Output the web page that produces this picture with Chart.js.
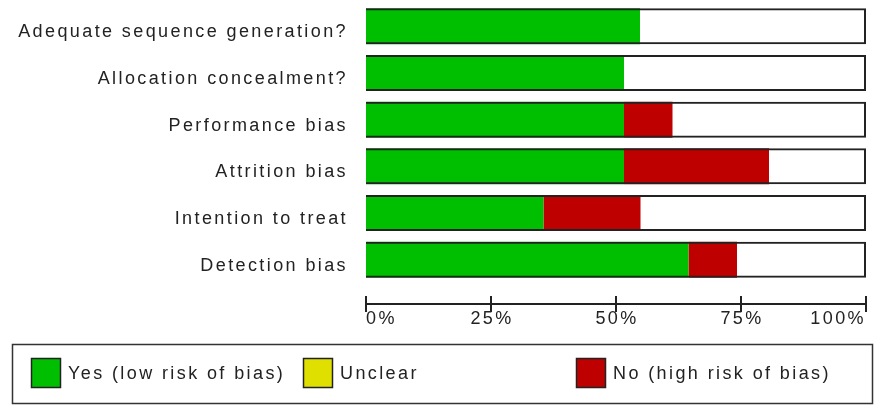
<!DOCTYPE html>
<html>
<head>
<meta charset="utf-8">
<script src="https://cdn.jsdelivr.net/npm/chart.js@4"></script>
<style>
  html, body { margin: 0; padding: 0; background: #fff; }
  #wrap { width: 882px; height: 416px; }
</style>
</head>
<body>
<div id="wrap"><canvas id="chart1" width="882" height="416"></canvas></div>
<script>
// risk of bias items (31 studies)
var items = ["Adequate sequence generation?", "Allocation concealment?", "Performance bias",
             "Attrition bias", "Intention to treat", "Detection bias"]
var yes_pct = [54.8, 51.6, 51.6, 51.6, 35.5, 64.5]
var no_pct = [0, 0, 9.7, 29.0, 19.4, 9.7]
var tick_values = [0, 25, 50, 75, 100]
var tick_labels = ["0%", "25%", "50%", "75%", "100%"]
var legend_labels = ["Yes (low risk of bias)", "Unclear", "No (high risk of bias)"]

var GREEN = '#00bf00'
var YELLOW = '#e0e000'
var RED = '#bf0000'
var SPACING = '2.4px'
var FONT = '18px "Liberation Sans", Arial, sans-serif'

var green_bars = [], red_bars = [], white_bars = [], outline = []
items.forEach(function (name, i) {
    var a = yes_pct[i]
    var b = yes_pct[i] + no_pct[i]
    green_bars.push([0, a])
    red_bars.push([a, b])
    white_bars.push([b, 100])
    outline.push([0, 100])
})

// draws the x axis a little below the bars plus the boxed legend
var extras = {
    id: 'extras',
    beforeDraw: function (chart) {
        chart.ctx.letterSpacing = SPACING
    },
    afterDraw: function (chart) {
        var ctx = chart.ctx
        var x = chart.scales.x
        var axisY = chart.chartArea.bottom + 21
        ctx.save()
        ctx.letterSpacing = SPACING
        ctx.strokeStyle = '#222'
        ctx.lineWidth = 2
        ctx.beginPath()
        ctx.moveTo(x.getPixelForValue(0), axisY)
        ctx.lineTo(x.getPixelForValue(100), axisY)
        tick_values.forEach(function (v) {
            var px = Math.round(x.getPixelForValue(v))
            ctx.moveTo(px, axisY - 8)
            ctx.lineTo(px, axisY + 8)
        })
        ctx.stroke()
        ctx.fillStyle = '#222'
        ctx.font = FONT
        ctx.textBaseline = 'middle'
        tick_values.forEach(function (v, i) {
            var px = x.getPixelForValue(v)
            if (i == 0) { ctx.textAlign = 'left' }
            else if (i == tick_values.length - 1) { ctx.textAlign = 'right' }
            else { ctx.textAlign = 'center'; px += 1 }
            ctx.fillText(tick_labels[i], px, axisY + 15)
        })

        // legend box
        ctx.lineWidth = 1.5
        ctx.strokeStyle = '#333'
        ctx.strokeRect(12.5, 344.5, 860, 59)
        var swatches = [[31, GREEN], [303, YELLOW], [576, RED]]
        ctx.textAlign = 'left'
        swatches.forEach(function (s, i) {
            ctx.fillStyle = s[1]
            ctx.fillRect(s[0], 358, 30, 30)
            ctx.strokeStyle = '#222'
            ctx.strokeRect(s[0] + 0.5, 358.5, 29, 29)
            ctx.fillStyle = '#222'
            ctx.fillText(legend_labels[i], s[0] + 37, 374)
        })
        ctx.restore()
    }
}

var ctx1 = document.getElementById('chart1')
const myChart = new Chart(ctx1, {
    type: 'bar',
    data: {
        labels: items,
        datasets: [
            { label: 'outline', data: outline, backgroundColor: 'rgba(0,0,0,0)', borderColor: '#222', borderWidth: 2 },
            { label: 'Yes', data: green_bars, backgroundColor: GREEN, borderWidth: 0 },
            { label: 'No', data: red_bars, backgroundColor: RED, borderWidth: 0 },
            { label: 'Unclear', data: white_bars, backgroundColor: '#ffffff', borderWidth: 0 }
        ]
    },
    options: {
        indexAxis: 'y',
        responsive: false,
        animation: false,
        grouped: false,
        categoryPercentage: 1,
        barPercentage: 0.77,
        layout: { padding: { top: 3, right: 16, bottom: 133, left: 0 } },
        scales: {
            x: { display: false, min: 0, max: 100 },
            y: {
                grid: { display: false },
                border: { display: false },
                ticks: { color: '#222', font: { family: '"Liberation Sans", Arial, sans-serif', size: 18 },
                         padding: 10, labelOffset: 6 },
                afterFit: function (scale) {
                    scale.width = 366
                    scale.paddingTop = 0
                    scale.paddingBottom = 0
                }
            }
        },
        plugins: {
            legend: { display: false },
            tooltip: { enabled: false }
        }
    },
    plugins: [extras]
})
</script>
</body>
</html>
